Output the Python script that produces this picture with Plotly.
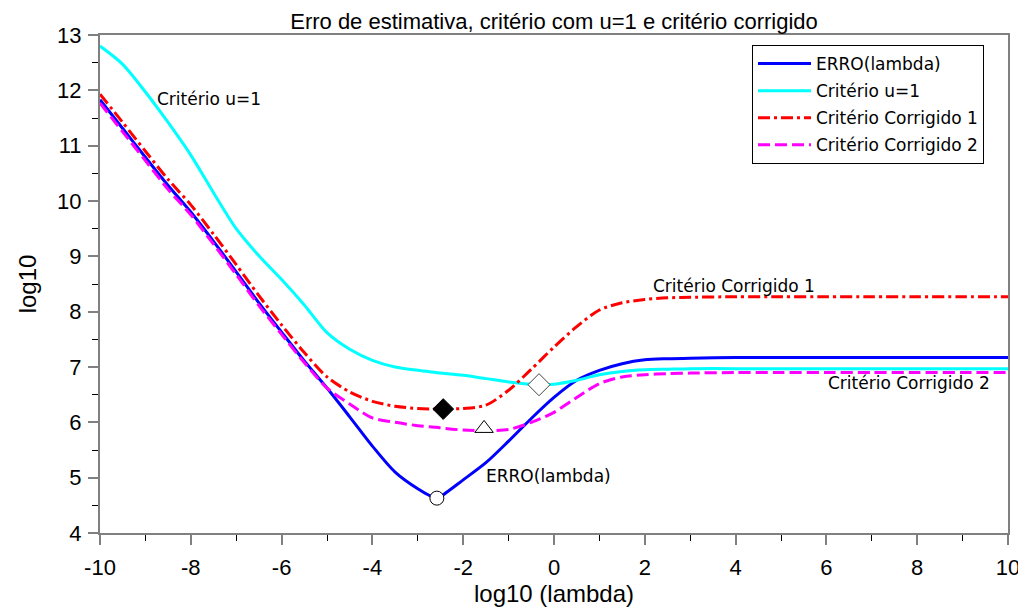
import plotly.graph_objects as go

# ---------------- data ----------------
x_vals = [-10, -9.5, -9, -8.5, -8, -7.5, -7, -6.5, -6, -5.5, -5, -4.5, -4, -3.5, -3,
          -2.6, -2.5, -2, -1.5, -1, -0.5, 0, 0.5, 1, 1.5, 2, 2.5, 3, 4, 5, 6, 7, 8, 9, 10]

erro = [11.83, 11.31, 10.79, 10.28, 9.80, 9.27, 8.72, 8.16, 7.63, 7.11, 6.62, 6.10, 5.57, 5.10, 4.80,
        4.63, 4.66, 4.96, 5.27, 5.66, 6.07, 6.45, 6.76, 6.94, 7.06, 7.13, 7.15, 7.16, 7.17, 7.17, 7.17, 7.17, 7.17, 7.17, 7.17]

crit_u1 = [12.80, 12.47, 11.97, 11.42, 10.83, 10.15, 9.50, 9.01, 8.58, 8.12, 7.62, 7.32, 7.12, 7.00, 6.94,
           6.90, 6.89, 6.85, 6.79, 6.73, 6.69, 6.69, 6.76, 6.86, 6.92, 6.95, 6.96, 6.97, 6.97, 6.97, 6.97, 6.97, 6.97, 6.97, 6.97]

crit_corr1 = [11.93, 11.42, 10.90, 10.39, 9.93, 9.40, 8.85, 8.29, 7.76, 7.26, 6.82, 6.55, 6.38, 6.29, 6.25,
              6.24, 6.24, 6.25, 6.31, 6.58, 6.96, 7.36, 7.73, 8.03, 8.16, 8.22, 8.25, 8.26, 8.27, 8.27, 8.27, 8.27, 8.27, 8.27, 8.27]

crit_corr2 = [11.77, 11.25, 10.73, 10.21, 9.75, 9.22, 8.67, 8.11, 7.59, 7.08, 6.62, 6.33, 6.08, 6.00, 5.94,
              5.91, 5.90, 5.86, 5.85, 5.87, 6.00, 6.18, 6.45, 6.70, 6.82, 6.86, 6.88, 6.89, 6.90, 6.90, 6.90, 6.90, 6.90, 6.90, 6.90]

# minimum markers
min_erro = (-2.58, 4.63)
min_corr1 = (-2.44, 6.24)
min_corr2 = (-1.54, 5.89)
min_u1 = (-0.33, 6.68)

series_names = ["ERRO(lambda)", "Critério u=1", "Critério Corrigido 1", "Critério Corrigido 2"]

label_texts = ["Critério u=1", "Critério Corrigido 1", "Critério Corrigido 2", "ERRO(lambda)"]
label_x = [-8.79, 2.14, 5.99, -1.54]
label_y = [11.84, 8.46, 6.71, 5.03]

x_ticks = [-10, -8, -6, -4, -2, 0, 2, 4, 6, 8, 10]
x_tick_text = ["-10", "-8", "-6", "-4", "-2", "0", "2", "4", "6", "8", "10"]
y_ticks = [4, 5, 6, 7, 8, 9, 10, 11, 12, 13]

# ---------------- figure ----------------
fig = go.Figure()

styles = [
    dict(color="#0000FF", width=3, dash="solid"),
    dict(color="#00FFFF", width=3, dash="solid"),
    dict(color="#FF0000", width=3, dash="12px,4px,3px,4px"),
    dict(color="#FF00FF", width=3, dash="12px,5px"),
]
for i, (name, ys) in enumerate(zip(series_names, [erro, crit_u1, crit_corr1, crit_corr2])):
    fig.add_trace(go.Scatter(x=x_vals, y=ys, mode="lines", name=name,
                             line=dict(shape="spline", smoothing=0.8, **styles[i]),
                             legendgroup=f"g{i}"))

fig.add_trace(go.Scatter(x=[min_erro[0]], y=[min_erro[1]], mode="markers", showlegend=False,
                         marker=dict(symbol="circle", size=14, color="white",
                                     line=dict(color="black", width=1))))
fig.add_trace(go.Scatter(x=[min_corr1[0]], y=[min_corr1[1]], mode="markers", showlegend=False,
                         marker=dict(symbol="diamond", size=16, color="black",
                                     line=dict(color="black", width=1))))
fig.add_trace(go.Scatter(x=[min_corr2[0]], y=[min_corr2[1]], mode="markers", showlegend=False,
                         marker=dict(symbol="triangle-up", size=16, color="white",
                                     line=dict(color="black", width=1))))
fig.add_trace(go.Scatter(x=[min_u1[0]], y=[min_u1[1]], mode="markers", showlegend=False,
                         marker=dict(symbol="diamond", size=17, color="white",
                                     line=dict(color="#444", width=1))))

for t, lx, ly in zip(label_texts, label_x, label_y):
    fig.add_annotation(x=lx, y=ly, xref="x", yref="y", text=t, showarrow=False,
                       xanchor="left", yanchor="middle",
                       font=dict(family="DejaVu Sans", size=17, color="black"))

arial = "Liberation Sans, Arial, sans-serif"
axis_common = dict(showline=True, linecolor="#808080", linewidth=2, mirror=True,
                   ticks="outside", ticklen=10, tickcolor="#808080", tickwidth=2,
                   showgrid=False, zeroline=False, automargin=False,
                   tickfont=dict(family=arial, size=22, color="black"))

fig.update_xaxes(range=[-10, 10], tickvals=x_ticks, ticktext=x_tick_text,
                 minor=dict(ticks="outside", ticklen=6, tickcolor="black", tickwidth=1, dtick=1, tick0=-10),
                 title=dict(text="log10 (lambda)", font=dict(family=arial, size=24, color="black"), standoff=0),
                 ticklabelstandoff=4,
                 **axis_common)
fig.update_yaxes(range=[4, 13], tickvals=y_ticks,
                 minor=dict(ticks="outside", ticklen=6, tickcolor="black", tickwidth=1, dtick=0.5, tick0=4),
                 title=dict(text="log10", font=dict(family=arial, size=24, color="black"), standoff=14),
                 ticklabelstandoff=2,
                 **axis_common)

# page body has an 8px margin: figure occupies the window from (8, 8)
fig.update_layout(
    width=1018, height=604,
    margin=dict(l=92, r=18, t=27, b=79),
    paper_bgcolor="white", plot_bgcolor="white",
    title=dict(text="Erro de estimativa, critério com u=1 e critério corrigido",
               x=0.5, xref="paper", xanchor="center", y=1 - 13 / 604, yanchor="middle",
               font=dict(family=arial, size=22, color="black")),
    legend=dict(x=(752 - 100) / 908, y=1 - 10 / 498, xanchor="left", yanchor="top",
                bordercolor="black", borderwidth=1, bgcolor="white",
                traceorder="grouped", tracegroupgap=2, itemwidth=53,
                font=dict(family="DejaVu Sans", size=17, color="black")),
    showlegend=True,
)

fig.write_html("out.html")
